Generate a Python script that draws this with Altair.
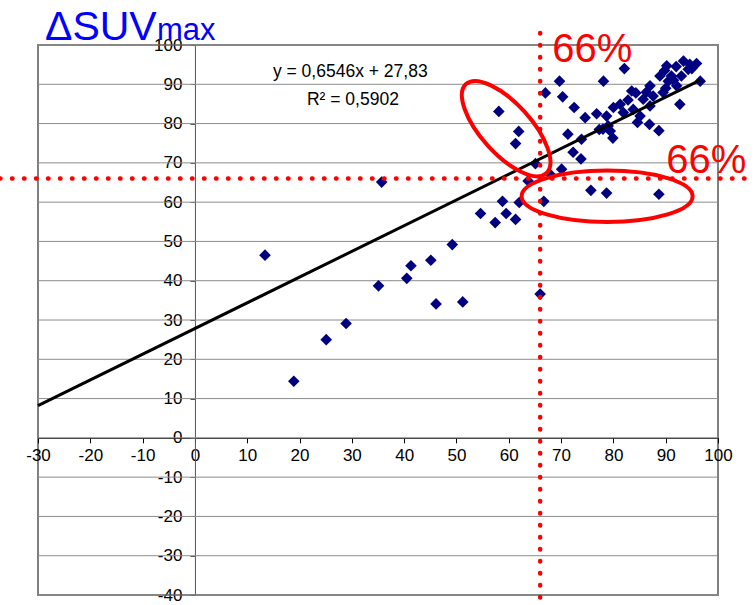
import altair as alt
import pandas as pd

# Paired measurements (x: response %, y: ΔSUVmax %)
pt_x = [13.4, 18.9, 25.1, 28.9, 35.7, 35.1, 40.5, 41.3, 45.1, 46.1, 49.2, 51.2,
        54.6, 57.4, 58.8, 59.5, 61.3, 62.0, 66.0, 66.7, 63.7, 65.1, 67.9, 70.1,
        58.1, 61.9, 61.3,
        67.0, 69.7, 78.1, 82.1, 70.3, 72.5, 74.6, 76.8, 71.3, 73.9, 77.3, 79.9, 72.3, 73.8,
        75.7, 78.7, 88.7,
        84.6, 86.9, 88.7, 78.0, 79.4, 90.2, 93.4, 95.9, 94.6, 96.6, 92.7,
        80.0, 83.5, 87.0, 88.9, 90.5, 92.1, 87.0, 85.7, 83.8, 81.9, 81.3, 85.1, 87.6,
        89.5, 91.1, 94.3, 93.0, 78.7, 79.0,
        82.8, 84.3, 86.3, 90.0, 91.5, 95.0, 92.0, 89.8]
pt_y = [46.5, 14.4, 25.0, 29.1, 65.1, 38.7, 40.6, 43.8, 45.2, 34.1, 49.2, 34.6,
        57.1, 54.8, 60.2, 57.1, 55.6, 59.9, 36.6, 60.2, 65.4, 69.8, 67.1, 68.4,
        83.1, 78.0, 74.9,
        87.8, 90.8, 90.8, 94.0, 86.8, 84.1, 81.5, 82.5, 77.3, 76.0, 78.5, 76.3, 72.7, 71.0,
        63.0, 62.3, 62.0,
        80.3, 79.8, 78.2, 78.6, 78.1, 94.7, 95.9, 95.3, 95.1, 90.8, 84.9,
        84.1, 88.3, 89.6, 92.1, 90.8, 89.6, 84.5, 86.2, 83.6, 82.8, 84.9, 81.9, 87.0,
        87.9, 92.1, 93.8, 92.1, 81.9, 79.4,
        86.0, 87.8, 88.0, 89.0, 91.0, 94.0, 94.5, 93.5]

# Linear trend (from the printed equation)
slope = 0.6546
intercept = 27.83
fit_x = [-30, 96.6]
eq_label = "y = 0,6546x + 27,83"
r2_label = "R² = 0,5902"

# Cut-off threshold
cutoff = 66
cut_label = "66%"

x_ticks = [-30, -20, -10, 0, 10, 20, 30, 40, 50, 60, 70, 80, 90, 100]
y_ticks = [-40, -30, -20, -10, 0, 10, 20, 30, 40, 50, 60, 70, 80, 90, 100]

W, H = 680, 550
X_DOM = [-30, 100]
Y_DOM = [-40, 100]
FONT = "Liberation Sans"
RED = "#ff0000"

xs = alt.Scale(domain=X_DOM, nice=False, zero=False)
ys = alt.Scale(domain=Y_DOM, nice=False, zero=False)

# axes cross at the origin
x_axis_off = -H * (0 - Y_DOM[0]) / (Y_DOM[1] - Y_DOM[0])
y_axis_off = -W * (0 - X_DOM[0]) / (X_DOM[1] - X_DOM[0])

# plain hyphen for negative tick labels
plain_label = "'' + datum.value"

x_axis = alt.Axis(values=x_ticks, offset=x_axis_off, grid=False, title=None,
                  domainColor="#000000", domainWidth=1, tickColor="#000000",
                  tickSize=5, labelPadding=5, labelFont=FONT, labelFontSize=17,
                  labelColor="#000000", labelFlush=False, labelOverlap=False,
                  labelExpr=plain_label)
y_axis = alt.Axis(values=y_ticks, offset=y_axis_off, grid=False, title=None,
                  domainColor="#555555", domainWidth=1, tickColor="#555555",
                  tickSize=5, labelPadding=8, labelFont=FONT, labelFontSize=17,
                  labelColor="#000000", labelFlush=False, labelOverlap=False,
                  labelExpr=plain_label)


def X(field="x"):
    return alt.X(f"{field}:Q", scale=xs, axis=x_axis)


def Y(field="y"):
    return alt.Y(f"{field}:Q", scale=ys, axis=y_axis)


pts = pd.DataFrame({"x": pt_x, "y": pt_y})
fit = pd.DataFrame({"x": fit_x, "y": [slope * v + intercept for v in fit_x]})
grid = pd.DataFrame({"y": y_ticks})

grid_layer = alt.Chart(grid).mark_rule(color="#8c8c8c", strokeWidth=1).encode(
    y=Y(), x=alt.value(0), x2=alt.value(W))

points = alt.Chart(pts).mark_point(shape="diamond", filled=True, size=135,
                                   color="#000080", opacity=1, strokeWidth=0).encode(
    x=X(), y=Y())

trend = alt.Chart(fit).mark_line(color="#000000", strokeWidth=3).encode(x=X(), y=Y())

dots = dict(color=RED, strokeWidth=4.5, strokeDash=[0.5, 11.5], strokeCap="round")
vline = alt.Chart(pd.DataFrame({"x": [cutoff]})).mark_rule(**dots).encode(
    x=X(), y=alt.value(-12), y2=alt.value(H + 15))
hline = alt.Chart(pd.DataFrame({"y": [cutoff]})).mark_rule(**dots).encode(
    y=Y(), x=alt.value(-38), x2=alt.value(W + 37))


def ellipse_path(a, b):
    k = 0.5523
    return (f"M {a} 0 C {a} {k*b:.2f} {k*a:.2f} {b} 0 {b} "
            f"C {-k*a:.2f} {b} {-a} {k*b:.2f} {-a} 0 "
            f"C {-a} {-k*b:.2f} {-k*a:.2f} {-b} 0 {-b} "
            f"C {k*a:.2f} {-b} {a} {-k*b:.2f} {a} 0 Z")


def ring(cx, cy, a, b, angle):
    return alt.Chart(pd.DataFrame({"x": [cx], "y": [cy]})).mark_point(
        shape=ellipse_path(a, b), size=4, filled=False, stroke=RED,
        strokeWidth=4, opacity=1, angle=angle).encode(x=X(), y=Y())


ring_tilted = ring(59.5, 78.7, 60, 25, 48)
ring_flat = ring(78.8, 61.5, 85.5, 25.7, 0)


def label(text, x, y, size, color, align="center"):
    return alt.Chart(pd.DataFrame({"x": [x], "y": [y], "t": [text]})).mark_text(
        font=FONT, fontSize=size, color=color, align=align,
        baseline="alphabetic").encode(x=X(), y=Y(), text="t:N")


eq_text = label(eq_label, 29.7, 91.9, 17.5, "#000000")
r2_text = label(r2_label, 30.2, 84.7, 17.5, "#000000")
cut_top = label(cut_label, 68.3, 95.7, 40, RED, "left")
cut_right = label(cut_label, 90.1, 67.4, 40, RED, "left")

title_main = alt.Chart(pd.DataFrame({"t": ["ΔSUV"]})).mark_text(
    font=FONT, fontSize=41, color="#0000ff", align="left",
    baseline="alphabetic").encode(x=alt.value(7), y=alt.value(-5.5), text="t:N")
title_sub = alt.Chart(pd.DataFrame({"t": ["max"]})).mark_text(
    font=FONT, fontSize=31, color="#0000ff", align="left",
    baseline="alphabetic").encode(x=alt.value(119), y=alt.value(-5), text="t:N")

chart = alt.layer(
    grid_layer, points, trend, vline, hline, ring_tilted, ring_flat,
    eq_text, r2_text, cut_top, cut_right, title_main, title_sub
).properties(
    width=W, height=H,
    autosize=alt.AutoSizeParams(type="none"),
    padding={"left": 38, "top": 45, "right": 37, "bottom": 10},
    background="#ffffff",
).configure_view(stroke="#808080", strokeWidth=2)

chart.save("out.html", embed_options={"renderer": "svg", "actions": False})
